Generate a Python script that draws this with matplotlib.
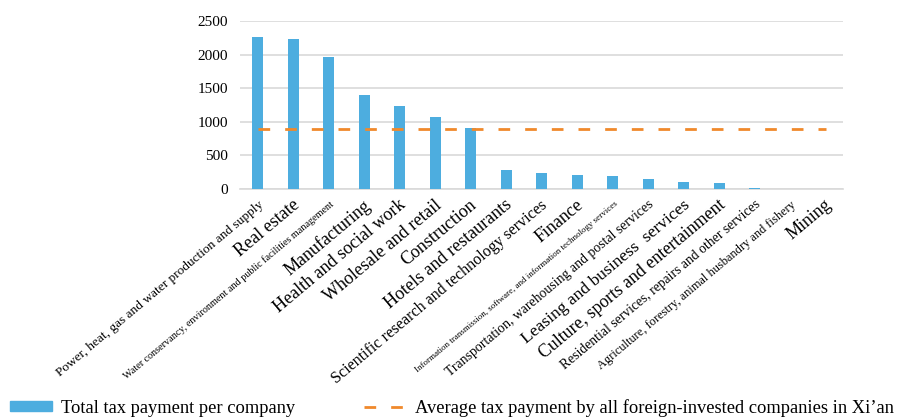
import matplotlib
matplotlib.use('Agg')
import matplotlib.pyplot as plt
import matplotlib.transforms as mtransforms
from matplotlib.patches import Patch
from matplotlib.lines import Line2D
import numpy as np

plt.rcParams['font.family'] = ['Liberation Serif', 'DejaVu Serif']

categories = [
    'Power, heat, gas and water production and supply',
    'Real estate',
    'Water conservancy, environment and public facilities management',
    'Manufacturing',
    'Health and social work',
    'Wholesale and retail',
    'Construction',
    'Hotels and restaurants',
    'Scientific research and technology services',
    'Finance',
    'Information transmission, software, and information technology services',
    'Transportation, warehousing and postal services',
    'Leasing and business  services',
    'Culture, sports and entertainment',
    'Residential services, repairs and other services',
    'Agriculture, forestry, animal husbandry and fishery',
    'Mining',
]
tax_per_company = [2262, 2232, 1964, 1404, 1240, 1067, 903, 278, 238, 208,
                   189, 149, 104, 94, 15, 0, 0]
average_tax = 897

# label sizes (reference squeezes the long ones)
label_sizes = [9.6, 13, 7.3, 13, 13, 13, 13, 13, 11.5, 13,
               6.4, 9.9, 12.6, 12.8, 9.8, 8.9, 13]

bar_color = '#4DADDF'
line_color = '#F0892B'
grid_color = '#D9D9D9'

fig = plt.figure(figsize=(8.99, 4.18), dpi=100)
ax = fig.add_axes([240 / 899, 1 - 189 / 418, 603.5 / 899, 168 / 418])

x = np.arange(len(categories))
ax.bar(x, tax_per_company, width=0.31, color=bar_color, zorder=3)
ax.plot([x[0], x[-1]], [average_tax, average_tax], color=line_color,
        lw=2.0, dashes=(4.2, 5.4), zorder=4)

ax.set_xlim(-0.5, len(categories) - 0.5)
ax.set_ylim(0, 2500)
ax.set_yticks(range(0, 2501, 500))
ax.yaxis.grid(True, color=grid_color, lw=1.2, zorder=0)
ax.set_axisbelow(True)
for side in ['top', 'right', 'left']:
    ax.spines[side].set_visible(False)
ax.spines['bottom'].set_color(grid_color)
ax.spines['bottom'].set_linewidth(1.2)
ax.tick_params(axis='both', length=0)
ax.tick_params(axis='y', labelsize=11, pad=8.5)

# category labels drawn as rotated texts hanging under each bar
ax.set_xticks(x)
ax.set_xticklabels([])
offset = mtransforms.ScaledTranslation(4 / 100, -14 / 100, fig.dpi_scale_trans)
label_trans = ax.get_xaxis_transform() + offset
for xi, name, size in zip(x, categories, label_sizes):
    ax.text(xi, 0, name, transform=label_trans, rotation=40,
            ha='right', va='center', rotation_mode='anchor',
            fontsize=size, clip_on=False)

handles = [Patch(color=bar_color),
           Line2D([], [], color=line_color, lw=2.0, dashes=(4.2, 5.4))]
labels = ['Total tax payment per company',
          'Average tax payment by all foreign-invested companies in Xi\u2019an']
fig.legend(handles, labels, ncol=2, frameon=False, loc='lower left',
           bbox_to_anchor=(10 / 899, 1 / 418), fontsize=13.3,
           handlelength=2.3, handleheight=0.45, handletextpad=0.45,
           columnspacing=3.75, borderpad=0, borderaxespad=0)

fig.savefig('out.png', dpi=100)
